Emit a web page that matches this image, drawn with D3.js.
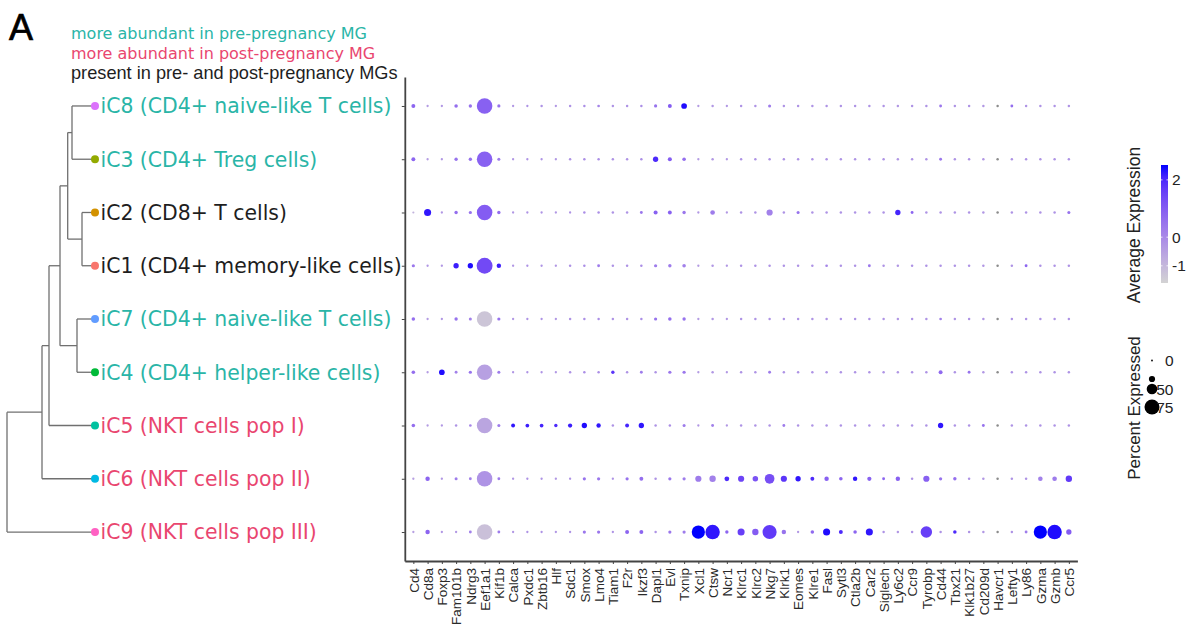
<!DOCTYPE html>
<html><head><meta charset="utf-8">
<script src="https://cdn.jsdelivr.net/npm/d3@7"></script>
<style>body{margin:0;background:#fff} svg{display:block}</style>
</head><body><svg id="c" width="1190" height="627"></svg>
<script>
// ---------------- DATA ----------------
const genes = ["Cd4","Cd8a","Foxp3","Fam101b","Ndrg3","Eef1a1","Kif1b","Calca","Pxdc1","Zbtb16","Hlf","Sdc1","Smox","Lmo4","Tiam1","F2r","Ikzf3","Dapl1","Evl","Txnip","Xcl1","Ctsw","Ncr1","Klrc1","Klrc2","Nkg7","Klrk1","Eomes","Klre1","Fasl","Sytl3","Ctla2b","Car2","Siglech","Ly6c2","Ccr9","Tyrobp","Cd44","Tbx21","Klk1b27","Cd209d","Havcr1","Lefty1","Ly86","Gzma","Gzmb","Ccr5"];
const clusters = ["iC8","iC3","iC2","iC1","iC7","iC4","iC5","iC6","iC9"];
const clusterNames = ["iC8 (CD4+ naive-like T cells)","iC3 (CD4+ Treg cells)","iC2 (CD8+ T cells)","iC1 (CD4+ memory-like cells)","iC7 (CD4+ naive-like T cells)","iC4 (CD4+ helper-like cells)","iC5 (NKT cells pop I)","iC6 (NKT cells pop II)","iC9 (NKT cells pop III)"];
const clusterGroup = ["pre","pre","both","both","pre","pre","post","post","post"];
const clusterColors = ["#DB72FB","#93AA00","#D39200","#F8766D","#619CFF","#00BA38","#00C19F","#00B9E3","#FF61C3"];
const groupNames = ["more abundant in pre-pregnancy MG","more abundant in post-pregnancy MG","present in pre- and post-pregnancy MGs"];

// percent expressed (per cluster, per gene)
const pctIC8 = [12,3,3,10,9,78,8,3,3,4,3,4,4,5,4,4,4,8,12,22,3,4,3,4,4,7,4,4,4,4,4,4,4,4,4,4,4,6,4,4,4,4,6,4,4,4,4];
const pctIC3 = [12,3,3,9,9,78,7,3,3,3,3,4,4,4,4,4,4,20,13,10,3,4,3,4,4,4,4,4,4,4,4,4,4,4,4,4,4,6,4,4,4,4,4,4,4,4,4];
const pctIC2 = [2,30,3,9,8,78,9,3,3,3,3,3,4,4,4,4,6,13,12,9,3,16,3,4,4,25,4,7,4,4,4,4,4,4,20,6,4,4,4,4,4,4,4,4,4,4,7];
const pctIC1 = [8,3,3,20,20,80,15,3,3,3,3,4,4,6,4,4,4,8,9,10,3,4,3,4,4,4,4,4,4,5,4,4,6,4,4,4,4,4,4,4,4,4,4,6,4,4,4];
const pctIC7 = [10,3,3,9,7,78,8,3,3,3,3,4,4,4,4,4,4,8,10,9,3,4,3,4,4,4,4,4,4,4,4,4,4,4,4,4,4,5,4,4,4,4,4,4,4,4,4];
const pctIC4 = [10,3,22,6,8,78,7,3,3,3,3,4,4,4,9,4,6,4,8,8,3,4,3,4,4,6,4,4,4,4,4,4,4,4,4,4,4,12,4,6,4,4,4,4,4,4,4];
const pctIC5 = [10,3,3,4,5,78,7,12,11,11,9,14,20,15,4,12,20,4,4,7,3,6,3,4,4,4,6,4,4,4,4,4,4,4,4,4,4,20,4,4,6,4,4,4,4,4,4];
const pctIC6 = [3,15,3,7,6,78,6,3,3,3,3,3,8,8,3,8,12,4,8,8,25,26,17,25,21,45,25,20,12,15,10,15,14,6,15,4,25,8,9,4,4,4,4,4,16,16,26];
const pctIC9 = [3,15,3,3,6,78,6,3,3,3,3,3,8,8,3,12,12,4,8,8,65,72,9,30,26,70,15,3,10,30,12,10,30,4,4,4,55,4,10,4,4,4,4,6,65,72,20];

// average expression, scaled (null = not expressed in any cluster)
const expIC8 = [0.8,-0.4,-0.3,0.6,0.5,0.9,0.5,-0.3,-0.2,-0.2,-0.3,-0.2,-0.1,0.1,-0.2,-0.2,-0.1,0.5,1.0,2.4,-0.4,-0.3,-0.3,-0.2,-0.2,0.3,-0.2,-0.2,-0.2,-0.2,-0.2,-0.2,-0.2,-0.2,-0.3,-0.2,-0.2,0.4,-0.2,-0.2,-0.3,null,0.6,-0.2,-0.2,-0.2,-0.2];
const expIC3 = [0.8,-0.4,-0.3,0.5,0.5,0.9,0.3,-0.3,-0.2,-0.2,-0.3,-0.2,-0.1,-0.1,-0.2,-0.2,-0.1,2.0,1.0,0.6,-0.4,-0.3,-0.3,-0.2,-0.2,-0.2,-0.2,-0.2,-0.2,-0.2,-0.2,-0.2,-0.2,-0.2,-0.3,-0.2,-0.2,0.4,-0.2,-0.2,-0.3,null,-0.2,-0.2,-0.2,-0.2,-0.2];
const expIC2 = [-0.9,2.3,-0.3,0.6,0.5,1.0,0.6,-0.3,-0.2,-0.2,-0.3,-0.2,-0.1,-0.1,-0.2,-0.2,0.4,0.9,0.9,0.4,-0.3,0.3,-0.3,-0.2,-0.2,0.2,-0.2,0.5,-0.2,-0.2,-0.2,-0.2,-0.2,-0.2,2.1,0.8,-0.2,-0.2,-0.2,-0.2,-0.3,null,-0.2,-0.2,-0.2,-0.2,0.5];
const expIC1 = [0.4,-0.3,-0.3,2.2,2.4,1.4,2.2,-0.3,-0.2,-0.2,-0.3,-0.2,-0.1,0.3,-0.2,-0.2,-0.1,0.3,0.3,0.2,-0.4,-0.3,-0.3,-0.2,-0.2,-0.2,-0.2,-0.2,-0.2,0.1,-0.2,-0.2,0.4,-0.2,-0.3,-0.2,-0.2,-0.2,-0.2,-0.2,-0.3,null,-0.2,0.8,-0.2,-0.2,-0.2];
const expIC7 = [0.6,-0.4,-0.3,0.5,0.2,-1.3,0.5,-0.3,-0.2,-0.2,-0.3,-0.2,-0.1,-0.1,-0.2,-0.2,-0.1,0.5,0.6,0.5,-0.4,-0.3,-0.3,-0.2,-0.2,-0.2,-0.2,-0.2,-0.2,-0.2,-0.2,-0.2,-0.2,-0.2,-0.3,-0.2,-0.2,0.2,-0.2,-0.2,-0.3,null,-0.2,-0.2,-0.2,-0.2,-0.2];
const expIC4 = [0.6,-0.4,2.4,0.2,0.5,-0.5,0.3,-0.3,-0.2,-0.2,-0.3,-0.2,-0.1,-0.1,1.8,-0.2,0.3,-0.2,0.4,0.4,-0.4,-0.3,-0.3,-0.2,-0.2,0.3,-0.2,-0.2,-0.2,-0.2,-0.2,-0.2,-0.2,-0.2,-0.3,-0.2,-0.2,0.7,-0.2,0.5,-0.3,null,-0.2,-0.2,-0.2,-0.2,-0.2];
const expIC5 = [0.6,-0.4,-0.3,-0.2,0.1,-0.6,0.3,2.3,2.2,2.1,2.0,2.2,2.4,2.3,-0.2,2.1,2.3,-0.2,-0.1,0.3,-0.3,0.2,-0.3,-0.2,-0.2,-0.2,0.3,-0.2,-0.2,-0.2,-0.2,-0.2,-0.2,-0.2,-0.3,-0.2,-0.2,2.3,-0.2,-0.2,0.5,null,-0.2,-0.2,-0.2,-0.2,-0.2];
const expIC6 = [-0.5,0.8,-0.3,0.3,0.2,-0.2,0.3,-0.3,-0.2,-0.2,-0.3,-0.2,0.5,0.4,-0.2,0.5,0.6,-0.2,0.4,0.3,0.3,0.2,2.0,1.5,1.2,1.3,1.8,2.3,2.0,0.9,0.8,2.3,0.9,0.8,0.9,-0.2,0.9,0.5,0.6,-0.2,-0.3,null,-0.2,-0.2,0.2,0.3,1.7];
const expIC9 = [-0.5,0.8,-0.3,-0.3,0.2,-1.2,0.3,-0.3,-0.2,-0.2,-0.3,-0.2,0.4,0.4,-0.2,0.8,0.8,-0.2,0.4,0.3,2.5,2.3,0.8,1.6,1.0,1.7,0.5,-0.3,0.7,2.4,2.0,0.8,2.3,-0.2,-0.3,-0.2,1.6,-0.2,2.0,-0.2,-0.3,null,-0.2,0.3,2.5,2.4,1.0];

// dendrogram (merge heights read from the tree)
const dendro = {h:88, children:[
  {h:53, children:[
    {h:46, children:[
      {h:35, children:[
        {h:27.3, children:[
          {h:23, children:[{leaf:"iC8"},{leaf:"iC3"}]},
          {h:13, children:[{leaf:"iC2"},{leaf:"iC1"}]}
        ]},
        {h:18, children:[{leaf:"iC7"},{leaf:"iC4"}]}
      ]},
      {leaf:"iC5"}
    ]},
    {leaf:"iC6"}
  ]},
  {leaf:"iC9"}
]};

const colorTicks = [2, 0, -1];
const sizeBreaks = [0, 25, 50, 75];
const sizeLabels = ["0", "", "50", "75"];

// ---------------- LAYOUT / STYLE ----------------
const TEAL = "#2ab5a7", PINK = "#e9466f", BLACK = "#1e1e1e";
const groupColor = {pre: TEAL, post: PINK, both: BLACK};
const svg = d3.select("#c");

const x = d3.scalePoint().domain(genes).range([404.8, 1077.4]).padding(0.6);
const y = d3.scalePoint().domain(clusters).range([77, 561]).padding(0.544);
const r = d3.scaleLinear().domain([0, 75]).range([0.9, 7.5]);
const color = d3.scaleLinear().domain([-1.6, 2.5]).range(["#d3d3d3", "#0000ff"]).interpolate(d3.interpolateLab).clamp(true);
const NA_COLOR = "#8c8c8c";

const pctRows = [pctIC8,pctIC3,pctIC2,pctIC1,pctIC7,pctIC4,pctIC5,pctIC6,pctIC9];
const expRows = [expIC8,expIC3,expIC2,expIC1,expIC7,expIC4,expIC5,expIC6,expIC9];
const cells = [];
clusters.forEach((c, i) => genes.forEach((g, j) => cells.push({c, g, pct: pctRows[i][j], exp: expRows[i][j]})));

// panel letter
svg.append("text").attr("x", 9).attr("y", 40).attr("font-family", "Liberation Sans, Arial, sans-serif")
  .attr("font-size", 36).attr("fill", "#000").attr("stroke", "#000").attr("stroke-width", 0.7).text("A");

// group legend (top)
const glines = [{t: groupNames[0], c: TEAL, f: "DejaVu Sans", s: 16},
                {t: groupNames[1], c: PINK, f: "DejaVu Sans", s: 16},
                {t: groupNames[2], c: BLACK, f: "Liberation Sans, Arial", s: 18.2}];
svg.selectAll("text.grp").data(glines).join("text").attr("class", "grp")
  .attr("x", 71).attr("y", (d, i) => 38.5 + i * 20)
  .attr("font-family", d => d.f).attr("font-size", d => d.s).attr("fill", d => d.c).text(d => d.t);

// axes
const xAxis = d3.axisBottom(x).tickSize(3).tickSizeOuter(0);
const gx = svg.append("g").attr("transform", "translate(0,561)").call(xAxis);
gx.select(".domain").attr("stroke", "#444").attr("stroke-width", 1.8);
gx.selectAll(".tick line").attr("stroke", "#444").attr("stroke-width", 1);
gx.selectAll(".tick text").attr("transform", "rotate(-90)").attr("text-anchor", "end")
  .attr("x", -7).attr("y", 0).attr("dy", "0.35em")
  .attr("font-family", "Liberation Sans, Arial, sans-serif").attr("font-size", 13.5).attr("fill", "#2a2a2a");

const yAxis = d3.axisLeft(y).tickSize(3).tickSizeOuter(0).tickFormat("");
const gy = svg.append("g").attr("transform", "translate(404.8,0)").call(yAxis);
gy.select(".domain").attr("stroke", "#444").attr("stroke-width", 1.8);
gy.selectAll(".tick line").attr("stroke", "#444").attr("stroke-width", 1);

// dots
svg.append("g").selectAll("circle").data(cells).join("circle")
  .attr("cx", d => x(d.g)).attr("cy", d => y(d.c)).attr("r", d => r(d.pct))
  .attr("fill", d => d.exp == null ? NA_COLOR : color(d.exp));

// dendrogram
const root = d3.hierarchy(dendro);
const hx = d3.scaleLinear().domain([0, 88]).range([95, 7]);
root.eachAfter(n => {
  if (!n.children) { n.py = y(n.data.leaf); n.px = hx(0); }
  else { n.py = d3.mean(n.children, c => c.py); n.px = hx(n.data.h); }
});
const dg = svg.append("g").attr("stroke", "#707070").attr("stroke-width", 1.3).attr("fill", "none");
root.each(n => {
  if (!n.children) return;
  const ys = n.children.map(c => c.py);
  dg.append("line").attr("x1", n.px).attr("x2", n.px).attr("y1", d3.min(ys)).attr("y2", d3.max(ys));
  n.children.forEach(c => dg.append("line").attr("x1", n.px).attr("x2", c.px).attr("y1", c.py).attr("y2", c.py));
});
svg.append("g").selectAll("circle").data(clusters).join("circle")
  .attr("cx", hx(0)).attr("cy", d => y(d)).attr("r", 4)
  .attr("fill", (d, i) => clusterColors[i]);
svg.append("g").selectAll("text").data(clusters).join("text")
  .attr("x", 100.5).attr("y", d => y(d)).attr("dy", "0.36em")
  .attr("font-family", "DejaVu Sans, sans-serif").attr("font-size", 20.4)
  .attr("fill", (d, i) => groupColor[clusterGroup[i]]).text((d, i) => clusterNames[i]);

// colour legend
const cb = d3.scaleLinear().domain([-1.6, 2.52]).range([283, 165]);
const defs = svg.append("defs");
const grad = defs.append("linearGradient").attr("id", "cbar").attr("x1", 0).attr("y1", 1).attr("x2", 0).attr("y2", 0);
d3.range(0, 1.0001, 0.1).forEach(t => grad.append("stop").attr("offset", t)
  .attr("stop-color", color(-1.6 + t * (2.52 + 1.6))));
svg.append("rect").attr("x", 1161).attr("y", 165).attr("width", 7).attr("height", 118).attr("fill", "url(#cbar)");
colorTicks.forEach(v => {
  svg.append("line").attr("x1", 1161).attr("x2", 1162.5).attr("y1", cb(v)).attr("y2", cb(v)).attr("stroke", "#fff").attr("stroke-width", 0.8);
  svg.append("line").attr("x1", 1166.5).attr("x2", 1168).attr("y1", cb(v)).attr("y2", cb(v)).attr("stroke", "#fff").attr("stroke-width", 0.8);
  svg.append("text").attr("x", 1172).attr("y", cb(v)).attr("dy", "0.36em")
    .attr("font-family", "Liberation Sans, Arial, sans-serif").attr("font-size", 15.5).attr("fill", "#222").text(v);
});
svg.append("text").attr("transform", "translate(1140,225) rotate(-90)").attr("text-anchor", "middle")
  .attr("font-family", "Liberation Sans, Arial, sans-serif").attr("font-size", 17.5).attr("fill", "#222").text("Average Expression");

// size legend
const sizeKeyY = [360.5, 379, 389, 407];
sizeBreaks.forEach((v, i) => {
  svg.append("circle").attr("cx", 1152).attr("cy", sizeKeyY[i]).attr("r", r(v)).attr("fill", "#000");
  if (sizeLabels[i]) svg.append("text").attr("x", 1173.5).attr("y", sizeKeyY[i]).attr("dy", "0.36em").attr("text-anchor", "end")
    .attr("font-family", "Liberation Sans, Arial, sans-serif").attr("font-size", 15.5).attr("fill", "#222").text(sizeLabels[i]);
});
svg.append("text").attr("transform", "translate(1140,408) rotate(-90)").attr("text-anchor", "middle")
  .attr("font-family", "Liberation Sans, Arial, sans-serif").attr("font-size", 17).attr("fill", "#222").text("Percent Expressed");
</script></body></html>
